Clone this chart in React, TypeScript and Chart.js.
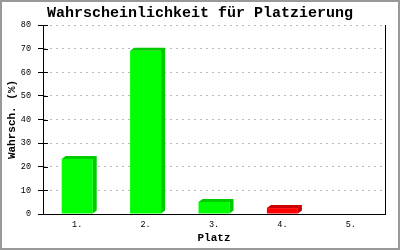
import React, { useEffect, useRef } from 'react';
import { Chart, registerables } from 'chart.js';

Chart.register(...registerables);

const categories = ['1.', '2.', '3.', '4.', '5.'];
const probabilities = [23.3, 69.1, 5.1, 2.5, 0];
const yTickValues = [0, 10, 20, 30, 40, 50, 60, 70, 80];

const TITLE = 'Wahrscheinlichkeit für Platzierung';
const Y_TITLE = 'Wahrsch. (%)';
const X_TITLE = 'Platz';

const FACE = ['#00ff00', '#00ff00', '#00ff00', '#ff0000', '#00ff00'];
const SIDE = ['#00cc00', '#00cc00', '#00cc00', '#cc0000', '#00cc00'];
const DX = 4;
const DY = 3;
const FONT = "'Liberation Mono', 'DejaVu Sans Mono', monospace";

const framePlugin = {
  id: 'frame',
  beforeDraw(chart: any) {
    const ctx = chart.ctx;
    ctx.save();
    ctx.fillStyle = '#ffffff';
    ctx.fillRect(0, 0, chart.width, chart.height);
    ctx.strokeStyle = '#999999';
    ctx.lineWidth = 2;
    ctx.strokeRect(1, 1, chart.width - 2, chart.height - 2);
    ctx.restore();
  },
  afterDraw(chart: any) {
    const ctx = chart.ctx;
    const { left } = chart.chartArea;
    const y = chart.scales.y;
    ctx.save();
    ctx.strokeStyle = '#000000';
    ctx.lineWidth = 1;
    ctx.beginPath();
    yTickValues.forEach((v) => {
      const py = Math.round(y.getPixelForValue(v)) + 0.5;
      ctx.moveTo(left, py);
      ctx.lineTo(left + 5, py);
    });
    ctx.stroke();
    ctx.restore();
  },
};

const depthPlugin = {
  id: 'depth',
  afterDatasetsDraw(chart: any) {
    const meta = chart.getDatasetMeta(0);
    const ctx = chart.ctx;
    ctx.save();
    meta.data.forEach((bar: any, i: number) => {
      const { x, y, base, width } = bar.getProps(['x', 'y', 'base', 'width'], true);
      if (Math.abs(base - y) < 0.5) return;
      const l = x - width / 2;
      const r = x + width / 2;
      ctx.fillStyle = SIDE[i];
      ctx.beginPath();
      ctx.moveTo(l, y);
      ctx.lineTo(l + DX, y - DY);
      ctx.lineTo(r + DX, y - DY);
      ctx.lineTo(r + DX, base - DY);
      ctx.lineTo(r, base);
      ctx.lineTo(r, y);
      ctx.closePath();
      ctx.fill();
    });
    ctx.restore();
  },
};

export default function App() {
  const ref = useRef<HTMLCanvasElement | null>(null);

  useEffect(() => {
    if (!ref.current) return;
    const chart = new Chart(ref.current, {
      type: 'bar',
      data: {
        labels: categories,
        datasets: [
          {
            data: probabilities,
            backgroundColor: FACE,
            borderWidth: 0,
            barPercentage: 31 / 68.4,
            categoryPercentage: 1,
          },
        ],
      },
      options: {
        responsive: false,
        animation: false,
        events: [],
        layout: { padding: 0 },
        plugins: {
          legend: { display: false },
          tooltip: { enabled: false },
          title: {
            display: true,
            text: TITLE,
            color: '#000000',
            font: { family: FONT, size: 15, weight: 'bold', lineHeight: 1 },
            padding: { top: 6, bottom: 4 },
          },
        },
        scales: {
          x: {
            grid: { display: false, drawTicks: false },
            border: { display: true, color: '#000000', width: 1 },
            ticks: {
              color: '#000000',
              font: { family: FONT, size: 8.5 },
              padding: 6,
            },
            title: {
              display: true,
              text: X_TITLE,
              color: '#000000',
              font: { family: FONT, size: 11, weight: 'bold', lineHeight: 1 },
              padding: { top: 0, bottom: 6 },
            },
            afterFit: (s: any) => {
              s.height = 36;
            },
          },
          y: {
            min: 0,
            max: 80,
            afterBuildTicks: (s: any) => {
              s.ticks = yTickValues.map((v) => ({ value: v }));
            },
            grid: {
              color: '#bbbbbb',
              tickColor: '#000000',
              tickLength: 5,
              lineWidth: 1,
            },
            border: { display: true, color: '#000000', width: 1, dash: [2, 4] },
            ticks: {
              color: '#000000',
              font: { family: FONT, size: 8.5 },
              padding: 7,
            },
            title: {
              display: true,
              text: Y_TITLE,
              color: '#000000',
              font: { family: FONT, size: 11, weight: 'bold', lineHeight: 1 },
              padding: { top: 6.5, bottom: 0 },
            },
            afterFit: (s: any) => {
              s.width = 43;
            },
          },
          y2: {
            position: 'right',
            min: 0,
            max: 80,
            grid: { display: false, drawTicks: false },
            border: { display: true, color: '#000000', width: 1 },
            ticks: { display: false },
            afterFit: (s: any) => {
              s.width = 15;
            },
          },
        },
      } as any,
      plugins: [framePlugin, depthPlugin],
    });
    return () => chart.destroy();
  }, []);

  return (
    <div style={{ position: 'absolute', left: 0, top: 0, width: 400, height: 250 }}>
      <canvas ref={ref} width={400} height={250} style={{ display: 'block', width: 400, height: 250 }} />
    </div>
  );
}
